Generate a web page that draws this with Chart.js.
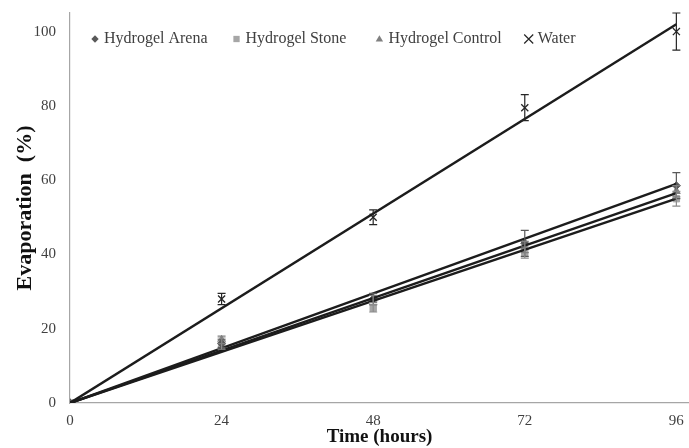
<!DOCTYPE html>
<html>
<head>
<meta charset="utf-8">
<script src="https://cdn.jsdelivr.net/npm/chart.js@4/dist/chart.umd.min.js"></script>
<style>
html,body{margin:0;padding:0;background:#fff;}
#wrap{width:689px;height:448px;}
</style>
</head>
<body>
<div id="wrap"><canvas id="c" width="689" height="448"></canvas></div>
<script>
// ---- data ----
const hours = [0, 24, 48, 72, 96];
const arena = [0, 16, 28, 43, 58.5];
const stone = [0, 16, 25.5, 40.5, 55];
const control = [0, 17, 28, 42, 57];
const water = [0, 28, 50, 79.5, 100];
const arenaErr = [0, 1, 1.5, 3.5, 3.5];
const stoneErr = [0, 1.5, 1, 1.5, 2];
const controlErr = [0, 1, 1, 1.5, 1.5];
const waterErr = [0, 1.5, 2, 3.5, 5];
const trendHours = [0, 96];
const arenaTrend = [0, 59];
const stoneTrend = [0, 55];
const controlTrend = [0, 56.5];
const waterTrend = [0, 102];
const xTicks = [0, 24, 48, 72, 96];
const yTicks = [0, 20, 40, 60, 80, 100];
const seriesNames = ['Hydrogel Arena', 'Hydrogel Stone', 'Hydrogel Control', 'Water'];

const SERIF = '"Liberation Serif", "Times New Roman", serif';
const pts = (xs, ys) => xs.map((x, i) => ({x: x, y: ys[i]}));

const pointSets = [
  {label: seriesNames[0], data: pts(hours, arena), err: arenaErr, pointStyle: 'rectRot', radius: 4, color: '#595959', errColor: '#595959', bw: 1},
  {label: seriesNames[1], data: pts(hours, stone), err: stoneErr, pointStyle: 'rect', radius: 4.5, color: '#a6a6a6', errColor: '#8c8c8c', bw: 1},
  {label: seriesNames[2], data: pts(hours, control), err: controlErr, pointStyle: 'triangle', radius: 4.5, color: '#808080', errColor: '#808080', bw: 1},
  {label: seriesNames[3], data: pts(hours, water), err: waterErr, pointStyle: 'crossRot', radius: 5, color: '#262626', errColor: '#262626', bw: 1.3}
];

const datasets = [];
pointSets.forEach(s => {
  datasets.push({
    type: 'scatter', label: s.label, data: s.data, errors: s.err, errColor: s.errColor,
    showLine: false, pointStyle: s.pointStyle, pointRadius: s.radius,
    backgroundColor: s.color, borderColor: s.color, pointBorderWidth: s.bw, order: 2
  });
});
[arenaTrend, stoneTrend, controlTrend, waterTrend].forEach((t, i) => {
  datasets.push({
    type: 'line', label: 'trend' + i, data: pts(trendHours, t),
    borderColor: '#1c1c1c', borderWidth: 2.4, pointRadius: 0, fill: false, order: 1
  });
});

const errorBars = {
  id: 'errorBars',
  afterDatasetsDraw(chart) {
    const ctx = chart.ctx, xs = chart.scales.x, ys = chart.scales.y;
    chart.data.datasets.forEach(ds => {
      if (!ds.errors) return;
      ctx.save();
      ctx.strokeStyle = ds.errColor;
      ctx.lineWidth = 1.2;
      ds.data.forEach((p, i) => {
        const e = ds.errors[i];
        if (!e) return;
        const x = xs.getPixelForValue(p.x);
        const y1 = ys.getPixelForValue(p.y - e);
        const y2 = ys.getPixelForValue(p.y + e);
        ctx.beginPath();
        ctx.moveTo(x, y1); ctx.lineTo(x, y2);
        ctx.moveTo(x - 4, y1); ctx.lineTo(x + 4, y1);
        ctx.moveTo(x - 4, y2); ctx.lineTo(x + 4, y2);
        ctx.stroke();
      });
      ctx.restore();
    });
  }
};

function drawMarker(ctx, style, x, y, r, color) {
  ctx.save();
  ctx.fillStyle = color; ctx.strokeStyle = color; ctx.lineWidth = 1.2;
  ctx.beginPath();
  if (style === 'rectRot') {
    ctx.moveTo(x, y - r); ctx.lineTo(x + r, y); ctx.lineTo(x, y + r); ctx.lineTo(x - r, y); ctx.closePath(); ctx.fill();
  } else if (style === 'rect') {
    ctx.rect(x - r * 0.85, y - r * 0.85, r * 1.7, r * 1.7); ctx.fill();
  } else if (style === 'triangle') {
    ctx.moveTo(x, y - r); ctx.lineTo(x + r, y + r * 0.7); ctx.lineTo(x - r, y + r * 0.7); ctx.closePath(); ctx.fill();
  } else {
    ctx.moveTo(x - r, y - r); ctx.lineTo(x + r, y + r); ctx.moveTo(x + r, y - r); ctx.lineTo(x - r, y + r); ctx.stroke();
  }
  ctx.restore();
}

const innerLegend = {
  id: 'innerLegend',
  afterDraw(chart) {
    const ctx = chart.ctx;
    ctx.save();
    ctx.font = '16px ' + SERIF;
    ctx.textBaseline = 'middle';
    let x = 95;
    const y = 39;
    const gaps = [29, 33, 27, 0];
    pointSets.forEach((s, i) => {
      const mr = s.pointStyle === 'crossRot' ? 4.5 : 3.7;
      drawMarker(ctx, s.pointStyle, x, y, mr, s.color);
      ctx.fillStyle = '#404040';
      ctx.fillText(s.label, x + 9, y);
      x = x + 9 + ctx.measureText(s.label).width + gaps[i];
    });
    ctx.restore();
  }
};

new Chart(document.getElementById('c'), {
  data: {datasets: datasets},
  plugins: [errorBars, innerLegend],
  options: {
    responsive: false,
    animation: false,
    layout: {autoPadding: false, padding: {top: 13, right: 0, left: 12, bottom: 0}},
    plugins: {legend: {display: false}, tooltip: {enabled: false}},
    scales: {
      x: {
        type: 'linear', min: 0, max: 98,
        afterBuildTicks: s => { s.ticks = xTicks.map(v => ({value: v})); },
        afterFit: s => { s.height = 45; s.paddingLeft = 0; s.paddingRight = 0; },
        ticks: {color: '#404040', font: {family: SERIF, size: 15}, padding: 9},
        grid: {display: false, drawTicks: false},
        border: {display: true, color: '#a6a6a6', width: 1.2},
        title: {display: true, text: 'Time (hours)', color: '#111', font: {family: SERIF, size: 19, weight: 'bold'}, padding: {top: 0, bottom: 0}}
      },
      y: {
        type: 'linear', min: 0, max: 105,
        afterBuildTicks: s => { s.ticks = yTicks.map(v => ({value: v})); },
        afterFit: s => { s.width = 58; s.paddingTop = 0; s.paddingBottom = 0; },
        ticks: {color: '#404040', font: {family: SERIF, size: 15}, padding: 14},
        grid: {display: false, drawTicks: false},
        border: {display: true, color: '#a6a6a6', width: 1.2},
        title: {display: true, text: 'Evaporation  (%)', color: '#111', font: {family: SERIF, size: 22, weight: 'bold'}, padding: {top: 0, bottom: 0}}
      }
    }
  }
});
</script>
</body>
</html>
